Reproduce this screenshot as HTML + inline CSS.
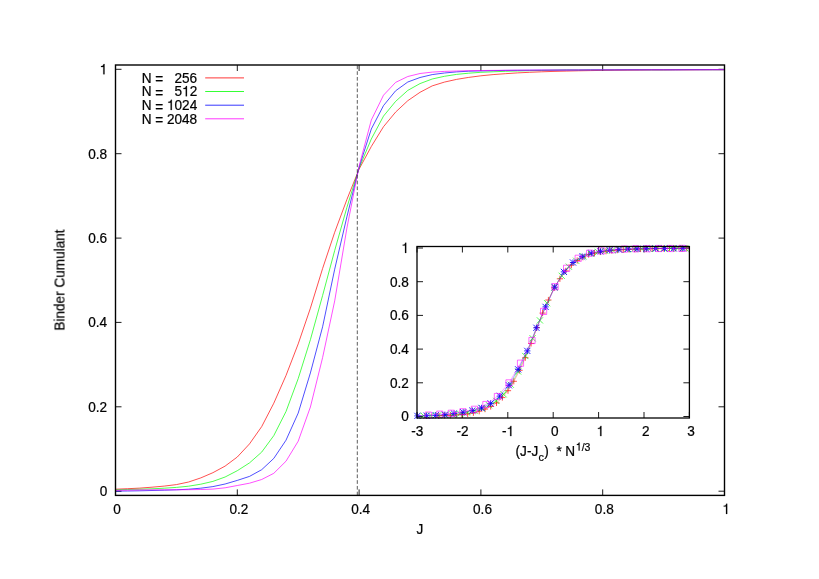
<!DOCTYPE html>
<html><head><meta charset="utf-8"><title>Binder Cumulant</title>
<style>html,body{margin:0;padding:0;background:#fff;}body{width:819px;height:579px;overflow:hidden;font-family:"Liberation Sans",sans-serif;}svg{display:block;}</style>
</head><body>
<svg width="819" height="579" viewBox="0 0 819 579">
<rect width="819" height="579" fill="#fff"/>
<g font-family="Liberation Sans, sans-serif" font-size="13.6px" fill="#000" stroke="#000" stroke-width="0.22" style="opacity:0.999">
<path d="M115.5,495.4v-6.0M115.5,65.0v6.0M115.5,491.2h6.0M724.5,491.2h-6.0M237.3,495.4v-6.0M237.3,65.0v6.0M115.5,406.8h6.0M724.5,406.8h-6.0M359.1,495.4v-6.0M359.1,65.0v6.0M115.5,322.4h6.0M724.5,322.4h-6.0M480.9,495.4v-6.0M480.9,65.0v6.0M115.5,238.1h6.0M724.5,238.1h-6.0M602.7,495.4v-6.0M602.7,65.0v6.0M115.5,153.7h6.0M724.5,153.7h-6.0M724.5,495.4v-6.0M724.5,65.0v6.0M115.5,69.3h6.0M724.5,69.3h-6.0" stroke="#000" stroke-width="0.9" fill="none"/>
<g transform="translate(117.1,513.9) scale(1,1.06)"><text x="-3.78" y="0.00" xml:space="preserve">0</text></g>
<g transform="translate(107.2,496.2) scale(1,1.06)"><text x="-7.56" y="0.00" xml:space="preserve">0</text></g>
<g transform="translate(238.9,513.9) scale(1,1.06)"><text x="-9.45" y="0.00" xml:space="preserve">0.2</text></g>
<g transform="translate(107.2,411.8) scale(1,1.06)"><text x="-18.91" y="0.00" xml:space="preserve">0.2</text></g>
<g transform="translate(360.7,513.9) scale(1,1.06)"><text x="-9.45" y="0.00" xml:space="preserve">0.4</text></g>
<g transform="translate(107.2,327.4) scale(1,1.06)"><text x="-18.91" y="0.00" xml:space="preserve">0.4</text></g>
<g transform="translate(482.5,513.9) scale(1,1.06)"><text x="-9.45" y="0.00" xml:space="preserve">0.6</text></g>
<g transform="translate(107.2,243.1) scale(1,1.06)"><text x="-18.91" y="0.00" xml:space="preserve">0.6</text></g>
<g transform="translate(604.3,513.9) scale(1,1.06)"><text x="-9.45" y="0.00" xml:space="preserve">0.8</text></g>
<g transform="translate(107.2,158.7) scale(1,1.06)"><text x="-18.91" y="0.00" xml:space="preserve">0.8</text></g>
<g transform="translate(726.1,513.9) scale(1,1.06)"><path d="M1.10,0.00L-0.10,0.00L-0.10,-6.87L-2.39,-6.87L-2.39,-7.72C-1.18,-7.79 -0.19,-7.96 0.20,-9.64L1.10,-9.64Z"/></g>
<g transform="translate(107.2,74.3) scale(1,1.06)"><path d="M-2.68,0.00L-3.88,0.00L-3.88,-6.87L-6.18,-6.87L-6.18,-7.72C-4.97,-7.79 -3.97,-7.96 -3.58,-9.64L-2.68,-9.64Z"/></g>
<g transform="translate(419.9,533.8) scale(1,1.06)"><text x="-3.40" y="0.00" xml:space="preserve">J</text></g>
<text transform="translate(64.3,280.1) rotate(-90) scale(1,1.06)" text-anchor="middle">Binder Cumulant</text>
<g transform="translate(197.2,82.7) scale(1,1.06)"><text x="-55.57" y="0.00" xml:space="preserve">N </text><text x="-41.97" y="1.50" xml:space="preserve">=</text><text x="-34.03" y="0.00" xml:space="preserve">   256</text></g>
<path d="M205.2,77.9H244" stroke="#ff0000" stroke-width="0.8" fill="none"/>
<g transform="translate(197.2,96.3) scale(1,1.06)"><text x="-55.57" y="0.00" xml:space="preserve">N </text><text x="-41.97" y="1.50" xml:space="preserve">=</text><text x="-34.03" y="0.00" xml:space="preserve">   5</text><path d="M-10.25,0.00L-11.44,0.00L-11.44,-6.87L-13.74,-6.87L-13.74,-7.72C-12.53,-7.79 -11.54,-7.96 -11.14,-9.64L-10.25,-9.64Z"/><text x="-7.56" y="0.00" xml:space="preserve">2</text></g>
<path d="M205.2,91.5H244" stroke="#00ff00" stroke-width="0.8" fill="none"/>
<g transform="translate(197.2,110.0) scale(1,1.06)"><text x="-55.58" y="0.00" xml:space="preserve">N </text><text x="-41.98" y="1.50" xml:space="preserve">=</text><path d="M-25.37,0.00L-26.57,0.00L-26.57,-6.87L-28.87,-6.87L-28.87,-7.72C-27.66,-7.79 -26.67,-7.96 -26.27,-9.64L-25.37,-9.64Z"/><text x="-22.69" y="0.00" xml:space="preserve">024</text></g>
<path d="M205.2,105.2H244" stroke="#0000ff" stroke-width="0.8" fill="none"/>
<g transform="translate(197.2,123.6) scale(1,1.06)"><text x="-55.58" y="0.00" xml:space="preserve">N </text><text x="-41.98" y="1.50" xml:space="preserve">=</text><text x="-34.04" y="0.00" xml:space="preserve"> 2048</text></g>
<path d="M205.2,118.8H244" stroke="#ff00ff" stroke-width="0.8" fill="none"/>
<polyline points="115.5,489.2 127.7,488.7 139.9,488.1 152.0,487.2 164.2,486.1 176.4,484.6 188.6,482.0 200.8,477.9 212.9,472.7 225.1,466.1 237.3,457.0 249.5,443.9 261.7,426.6 273.8,403.2 286.0,375.5 298.2,343.9 310.4,308.2 322.6,268.5 334.7,232.3 346.9,199.5 359.1,169.1 371.3,146.5 383.5,126.7 395.6,112.1 407.8,100.7 420.0,92.3 432.2,85.9 444.4,82.1 456.5,79.4 468.7,77.4 480.9,75.8 493.1,74.6 505.3,73.7 517.4,72.9 529.6,72.3 541.8,71.8 554.0,71.4 566.2,71.1 578.3,70.8 590.5,70.6 602.7,70.4 614.9,70.2 627.1,70.1 639.2,70.0 651.4,69.9 663.6,69.9 675.8,69.8 688.0,69.8 700.1,69.7 712.3,69.7 724.5,69.7" fill="none" stroke="#ff0000" stroke-width="0.7" stroke-linejoin="round"/>
<polyline points="115.5,489.8 127.7,489.5 139.9,489.2 152.0,488.8 164.2,488.2 176.4,487.4 188.6,486.2 200.8,484.2 212.9,481.4 225.1,477.0 237.3,470.7 249.5,462.9 261.7,452.1 273.8,435.6 286.0,411.5 298.2,378.6 310.4,339.7 322.6,295.5 334.7,250.5 346.9,207.4 359.1,168.1 371.3,139.0 383.5,116.1 395.6,101.4 407.8,90.4 420.0,83.6 432.2,79.0 444.4,76.3 456.5,74.4 468.7,73.2 480.9,72.3 493.1,71.8 505.3,71.3 517.4,71.0 529.6,70.7 541.8,70.5 554.0,70.2 566.2,70.0 578.3,70.0 590.5,69.9 602.7,69.9 614.9,69.8 627.1,69.8 639.2,69.8 651.4,69.8 663.6,69.8 675.8,69.7 688.0,69.7 700.1,69.7 712.3,69.7 724.5,69.7" fill="none" stroke="#00ff00" stroke-width="0.7" stroke-linejoin="round"/>
<polyline points="115.5,491.1 127.7,491.0 139.9,490.8 152.0,490.5 164.2,490.2 176.4,489.8 188.6,489.2 200.8,488.2 212.9,486.6 225.1,484.0 237.3,480.4 249.5,476.4 261.7,469.7 273.8,458.4 286.0,440.2 298.2,413.1 310.4,372.9 322.6,326.8 334.7,269.2 346.9,216.8 359.1,167.3 371.3,129.0 383.5,105.6 395.6,90.8 407.8,82.0 420.0,77.5 432.2,74.6 444.4,73.0 456.5,71.9 468.7,71.2 480.9,70.9 493.1,70.6 505.3,70.4 517.4,70.3 529.6,70.2 541.8,70.1 554.0,70.1 566.2,70.0 578.3,70.0 590.5,69.9 602.7,69.9 614.9,69.9 627.1,69.8 639.2,69.8 651.4,69.8 663.6,69.8 675.8,69.8 688.0,69.7 700.1,69.7 712.3,69.7 724.5,69.7" fill="none" stroke="#0000ff" stroke-width="0.7" stroke-linejoin="round"/>
<polyline points="115.5,490.3 127.7,490.1 139.9,489.9 152.0,489.8 164.2,489.8 176.4,489.8 188.6,489.7 200.8,489.5 212.9,489.1 225.1,487.8 237.3,485.5 249.5,483.2 261.7,479.5 273.8,473.3 286.0,461.2 298.2,441.2 310.4,407.0 322.6,357.6 334.7,300.9 346.9,228.1 359.1,166.1 371.3,120.1 383.5,95.2 395.6,82.4 407.8,76.5 420.0,73.5 432.2,72.1 444.4,71.4 456.5,71.0 468.7,70.7 480.9,70.5 493.1,70.4 505.3,70.3 517.4,70.2 529.6,70.2 541.8,70.1 554.0,70.1 566.2,70.1 578.3,70.0 590.5,70.0 602.7,69.9 614.9,69.9 627.1,69.9 639.2,69.9 651.4,69.8 663.6,69.8 675.8,69.8 688.0,69.8 700.1,69.8 712.3,69.7 724.5,69.7" fill="none" stroke="#ff00ff" stroke-width="0.7" stroke-linejoin="round"/>
<path d="M357.3,495.4V65.0" stroke="#333" stroke-width="0.8" stroke-dasharray="3.7 2.06" fill="none"/>
<rect x="115.5" y="65.0" width="609.0" height="430.4" fill="none" stroke="#000" stroke-width="1.4"/>
<path d="M417.0,418.0v-6.0M417.0,246.5v6.0M462.4,418.0v-6.0M462.4,246.5v6.0M507.8,418.0v-6.0M507.8,246.5v6.0M553.2,418.0v-6.0M553.2,246.5v6.0M598.6,418.0v-6.0M598.6,246.5v6.0M644.0,418.0v-6.0M644.0,246.5v6.0M689.4,418.0v-6.0M689.4,246.5v6.0M417.0,416.5h6.0M689.4,416.5h-6.0M417.0,382.8h6.0M689.4,382.8h-6.0M417.0,349.1h6.0M689.4,349.1h-6.0M417.0,315.4h6.0M689.4,315.4h-6.0M417.0,281.7h6.0M689.4,281.7h-6.0M417.0,248.0h6.0M689.4,248.0h-6.0" stroke="#000" stroke-width="0.9" fill="none"/>
<g transform="translate(417.2,436.1) scale(1,1.06)"><text x="-6.05" y="0.00" xml:space="preserve">-3</text></g>
<g transform="translate(462.6,436.1) scale(1,1.06)"><text x="-6.05" y="0.00" xml:space="preserve">-2</text></g>
<g transform="translate(508.0,436.1) scale(1,1.06)"><text x="-6.05" y="0.00" xml:space="preserve">-</text><path d="M3.36,0.00L2.17,0.00L2.17,-6.87L-0.13,-6.87L-0.13,-7.72C1.08,-7.79 2.07,-7.96 2.47,-9.64L3.36,-9.64Z"/></g>
<g transform="translate(554.9,436.1) scale(1,1.06)"><text x="-3.78" y="0.00" xml:space="preserve">0</text></g>
<g transform="translate(600.3,436.1) scale(1,1.06)"><path d="M1.10,0.00L-0.10,0.00L-0.10,-6.87L-2.39,-6.87L-2.39,-7.72C-1.18,-7.79 -0.19,-7.96 0.20,-9.64L1.10,-9.64Z"/></g>
<g transform="translate(645.7,436.1) scale(1,1.06)"><text x="-3.78" y="0.00" xml:space="preserve">2</text></g>
<g transform="translate(691.1,436.1) scale(1,1.06)"><text x="-3.78" y="0.00" xml:space="preserve">3</text></g>
<g transform="translate(408.9,421.4) scale(1,1.06)"><text x="-7.56" y="0.00" xml:space="preserve">0</text></g>
<g transform="translate(408.9,387.7) scale(1,1.06)"><text x="-18.91" y="0.00" xml:space="preserve">0.2</text></g>
<g transform="translate(408.9,354.0) scale(1,1.06)"><text x="-18.91" y="0.00" xml:space="preserve">0.4</text></g>
<g transform="translate(408.9,320.3) scale(1,1.06)"><text x="-18.91" y="0.00" xml:space="preserve">0.6</text></g>
<g transform="translate(408.9,286.6) scale(1,1.06)"><text x="-18.91" y="0.00" xml:space="preserve">0.8</text></g>
<g transform="translate(408.9,252.9) scale(1,1.06)"><path d="M-2.68,0.00L-3.88,0.00L-3.88,-6.87L-6.18,-6.87L-6.18,-7.72C-4.97,-7.79 -3.97,-7.96 -3.58,-9.64L-2.68,-9.64Z"/></g>
<g transform="translate(515.6,456.3) scale(1,1.06)"><text x="0.00" y="0.00" xml:space="preserve">(J-J</text></g>
<g transform="translate(538.5,461.0) scale(1,1.06)"><text x="0.00" y="0.00" font-size="10.9px" xml:space="preserve">c</text></g>
<g transform="translate(544.3,456.3) scale(1,1.06)"><text x="0.00" y="0.00" xml:space="preserve">)</text></g>
<g transform="translate(556.4,456.3) scale(1,1.06)"><text x="0.00" y="0.00" xml:space="preserve">*</text></g>
<g transform="translate(565.3,456.3) scale(1,1.06)"><text x="0.00" y="0.00" xml:space="preserve">N</text></g>
<g transform="translate(575.8,450.5) scale(1,1.06)"><path d="M3.77,0.00L2.85,0.00L2.85,-5.30L1.07,-5.30L1.07,-5.96C2.01,-6.02 2.77,-6.14 3.08,-7.44L3.77,-7.44Z"/><text x="5.84" y="0.00" font-size="10.5px" xml:space="preserve">/3</text></g>
<clipPath id="ic"><rect x="417.0" y="242.5" width="272.4" height="179.5"/></clipPath>
<polyline clip-path="url(#ic)" points="438.8,415.7 444.6,415.5 450.4,415.3 456.1,414.9 461.9,414.5 467.7,413.9 473.4,412.8 479.2,411.2 485.0,409.1 490.7,406.5 496.5,402.9 502.3,397.6 508.0,390.7 513.8,381.3 519.6,370.3 525.3,357.7 531.1,343.4 536.9,327.6 542.6,313.1 548.4,300.0 554.2,287.9 559.9,278.8 565.7,270.9 571.4,265.1 577.2,260.5 583.0,257.2 588.7,254.6 594.5,253.1 600.3,252.0 606.0,251.2 611.8,250.6 617.6,250.1 623.3,249.7 629.1,249.4 634.9,249.2 640.6,249.0 646.4,248.9 652.2,248.7 657.9,248.6 663.7,248.5 669.5,248.4 675.2,248.4 681.0,248.3 686.8,248.3 692.5,248.2 698.3,248.2 704.1,248.2 709.8,248.2 715.6,248.2 721.3,248.2 727.1,248.2" fill="none" stroke="#ff0000" stroke-width="0.35"/>
<path d="M435.7,415.7h6.2M438.8,412.6v6.2M441.5,415.5h6.2M444.6,412.4v6.2M447.3,415.3h6.2M450.4,412.2v6.2M453.0,414.9h6.2M456.1,411.8v6.2M458.8,414.5h6.2M461.9,411.4v6.2M464.6,413.9h6.2M467.7,410.8v6.2M470.3,412.8h6.2M473.4,409.7v6.2M476.1,411.2h6.2M479.2,408.1v6.2M481.9,409.1h6.2M485.0,406.0v6.2M487.6,406.5h6.2M490.7,403.4v6.2M493.4,402.9h6.2M496.5,399.8v6.2M499.2,397.6h6.2M502.3,394.5v6.2M504.9,390.7h6.2M508.0,387.6v6.2M510.7,381.3h6.2M513.8,378.2v6.2M516.5,370.3h6.2M519.6,367.2v6.2M522.2,357.7h6.2M525.3,354.6v6.2M528.0,343.4h6.2M531.1,340.3v6.2M533.8,327.6h6.2M536.9,324.5v6.2M539.5,313.1h6.2M542.6,310.0v6.2M545.3,300.0h6.2M548.4,296.9v6.2M551.1,287.9h6.2M554.2,284.8v6.2M556.8,278.8h6.2M559.9,275.7v6.2M562.6,270.9h6.2M565.7,267.8v6.2M568.3,265.1h6.2M571.4,262.0v6.2M574.1,260.5h6.2M577.2,257.4v6.2M579.9,257.2h6.2M583.0,254.1v6.2M585.6,254.6h6.2M588.7,251.5v6.2M591.4,253.1h6.2M594.5,250.0v6.2M597.2,252.0h6.2M600.3,248.9v6.2M602.9,251.2h6.2M606.0,248.1v6.2M608.7,250.6h6.2M611.8,247.5v6.2M614.5,250.1h6.2M617.6,247.0v6.2M620.2,249.7h6.2M623.3,246.6v6.2M626.0,249.4h6.2M629.1,246.3v6.2M631.8,249.2h6.2M634.9,246.1v6.2M637.5,249.0h6.2M640.6,245.9v6.2M643.3,248.9h6.2M646.4,245.8v6.2M649.1,248.7h6.2M652.2,245.6v6.2M654.8,248.6h6.2M657.9,245.5v6.2M660.6,248.5h6.2M663.7,245.4v6.2M666.4,248.4h6.2M669.5,245.3v6.2M672.1,248.4h6.2M675.2,245.3v6.2M677.9,248.3h6.2M681.0,245.2v6.2M683.7,248.3h6.2M686.8,245.2v6.2" fill="none" stroke="#ff0000" stroke-width="0.7"/>
<polyline clip-path="url(#ic)" points="409.1,415.9 416.4,415.8 423.6,415.7 430.9,415.5 438.2,415.3 445.4,415.0 452.7,414.5 460.0,413.7 467.2,412.6 474.5,410.8 481.8,408.3 489.0,405.2 496.3,400.9 503.6,394.3 510.8,384.7 518.1,371.5 525.3,356.0 532.6,338.3 539.9,320.4 547.1,303.2 554.4,287.5 561.7,275.8 568.9,266.7 576.2,260.8 583.5,256.4 590.7,253.7 598.0,251.9 605.2,250.8 612.5,250.1 619.8,249.6 627.0,249.2 634.3,249.0 641.6,248.8 648.8,248.7 656.1,248.6 663.4,248.5 670.6,248.4 677.9,248.3 685.2,248.3 692.4,248.2 699.7,248.2 706.9,248.2 714.2,248.2 721.5,248.2 728.7,248.2 736.0,248.2 743.3,248.2 750.5,248.2 757.8,248.2 765.1,248.2 772.3,248.2" fill="none" stroke="#00ff00" stroke-width="0.35"/>
<path d="M420.5,412.6l6.2,6.2M420.5,418.8l6.2,-6.2M427.8,412.4l6.2,6.2M427.8,418.6l6.2,-6.2M435.1,412.2l6.2,6.2M435.1,418.4l6.2,-6.2M442.3,411.9l6.2,6.2M442.3,418.1l6.2,-6.2M449.6,411.4l6.2,6.2M449.6,417.6l6.2,-6.2M456.9,410.6l6.2,6.2M456.9,416.8l6.2,-6.2M464.1,409.5l6.2,6.2M464.1,415.7l6.2,-6.2M471.4,407.7l6.2,6.2M471.4,413.9l6.2,-6.2M478.7,405.2l6.2,6.2M478.7,411.4l6.2,-6.2M485.9,402.1l6.2,6.2M485.9,408.3l6.2,-6.2M493.2,397.8l6.2,6.2M493.2,404.0l6.2,-6.2M500.5,391.2l6.2,6.2M500.5,397.4l6.2,-6.2M507.7,381.6l6.2,6.2M507.7,387.8l6.2,-6.2M515.0,368.4l6.2,6.2M515.0,374.6l6.2,-6.2M522.2,352.9l6.2,6.2M522.2,359.1l6.2,-6.2M529.5,335.2l6.2,6.2M529.5,341.4l6.2,-6.2M536.8,317.3l6.2,6.2M536.8,323.5l6.2,-6.2M544.0,300.1l6.2,6.2M544.0,306.3l6.2,-6.2M551.3,284.4l6.2,6.2M551.3,290.6l6.2,-6.2M558.6,272.7l6.2,6.2M558.6,278.9l6.2,-6.2M565.8,263.6l6.2,6.2M565.8,269.8l6.2,-6.2M573.1,257.7l6.2,6.2M573.1,263.9l6.2,-6.2M580.4,253.3l6.2,6.2M580.4,259.5l6.2,-6.2M587.6,250.6l6.2,6.2M587.6,256.8l6.2,-6.2M594.9,248.8l6.2,6.2M594.9,255.0l6.2,-6.2M602.1,247.7l6.2,6.2M602.1,253.9l6.2,-6.2M609.4,247.0l6.2,6.2M609.4,253.2l6.2,-6.2M616.7,246.5l6.2,6.2M616.7,252.7l6.2,-6.2M623.9,246.1l6.2,6.2M623.9,252.3l6.2,-6.2M631.2,245.9l6.2,6.2M631.2,252.1l6.2,-6.2M638.5,245.7l6.2,6.2M638.5,251.9l6.2,-6.2M645.7,245.6l6.2,6.2M645.7,251.8l6.2,-6.2M653.0,245.5l6.2,6.2M653.0,251.7l6.2,-6.2M660.3,245.4l6.2,6.2M660.3,251.6l6.2,-6.2M667.5,245.3l6.2,6.2M667.5,251.5l6.2,-6.2M674.8,245.2l6.2,6.2M674.8,251.4l6.2,-6.2M682.1,245.2l6.2,6.2M682.1,251.4l6.2,-6.2" fill="none" stroke="#00ff00" stroke-width="0.7"/>
<polyline clip-path="url(#ic)" points="371.7,416.4 380.8,416.4 390.0,416.3 399.1,416.2 408.3,416.1 417.4,415.9 426.6,415.7 435.7,415.3 444.9,414.7 454.0,413.6 463.2,412.2 472.3,410.6 481.5,407.9 490.6,403.4 499.8,396.1 508.9,385.3 518.1,369.3 527.3,350.9 536.4,327.8 545.6,306.9 554.7,287.1 563.9,271.9 573.0,262.5 582.2,256.6 591.3,253.1 600.5,251.3 609.6,250.1 618.8,249.5 627.9,249.0 637.1,248.8 646.2,248.6 655.4,248.5 664.5,248.5 673.7,248.4 682.8,248.4 692.0,248.3 701.1,248.3 710.3,248.3 719.4,248.3 728.6,248.3 737.8,248.2 746.9,248.2 756.1,248.2 765.2,248.2 774.4,248.2 783.5,248.2 792.7,248.2 801.8,248.2 811.0,248.2 820.1,248.2 829.3,248.2" fill="none" stroke="#0000ff" stroke-width="0.35"/>
<path d="M414.3,415.9h6.2M417.4,412.8v6.2M414.3,412.8l6.2,6.2M414.3,419.0l6.2,-6.2M423.5,415.7h6.2M426.6,412.6v6.2M423.5,412.6l6.2,6.2M423.5,418.8l6.2,-6.2M432.6,415.3h6.2M435.7,412.2v6.2M432.6,412.2l6.2,6.2M432.6,418.4l6.2,-6.2M441.8,414.7h6.2M444.9,411.6v6.2M441.8,411.6l6.2,6.2M441.8,417.8l6.2,-6.2M450.9,413.6h6.2M454.0,410.5v6.2M450.9,410.5l6.2,6.2M450.9,416.7l6.2,-6.2M460.1,412.2h6.2M463.2,409.1v6.2M460.1,409.1l6.2,6.2M460.1,415.3l6.2,-6.2M469.2,410.6h6.2M472.3,407.5v6.2M469.2,407.5l6.2,6.2M469.2,413.7l6.2,-6.2M478.4,407.9h6.2M481.5,404.8v6.2M478.4,404.8l6.2,6.2M478.4,411.0l6.2,-6.2M487.5,403.4h6.2M490.6,400.3v6.2M487.5,400.3l6.2,6.2M487.5,406.5l6.2,-6.2M496.7,396.1h6.2M499.8,393.0v6.2M496.7,393.0l6.2,6.2M496.7,399.2l6.2,-6.2M505.8,385.3h6.2M508.9,382.2v6.2M505.8,382.2l6.2,6.2M505.8,388.4l6.2,-6.2M515.0,369.3h6.2M518.1,366.2v6.2M515.0,366.2l6.2,6.2M515.0,372.4l6.2,-6.2M524.2,350.9h6.2M527.3,347.8v6.2M524.2,347.8l6.2,6.2M524.2,354.0l6.2,-6.2M533.3,327.8h6.2M536.4,324.7v6.2M533.3,324.7l6.2,6.2M533.3,330.9l6.2,-6.2M542.5,306.9h6.2M545.6,303.8v6.2M542.5,303.8l6.2,6.2M542.5,310.0l6.2,-6.2M551.6,287.1h6.2M554.7,284.0v6.2M551.6,284.0l6.2,6.2M551.6,290.2l6.2,-6.2M560.8,271.9h6.2M563.9,268.8v6.2M560.8,268.8l6.2,6.2M560.8,275.0l6.2,-6.2M569.9,262.5h6.2M573.0,259.4v6.2M569.9,259.4l6.2,6.2M569.9,265.6l6.2,-6.2M579.1,256.6h6.2M582.2,253.5v6.2M579.1,253.5l6.2,6.2M579.1,259.7l6.2,-6.2M588.2,253.1h6.2M591.3,250.0v6.2M588.2,250.0l6.2,6.2M588.2,256.2l6.2,-6.2M597.4,251.3h6.2M600.5,248.2v6.2M597.4,248.2l6.2,6.2M597.4,254.4l6.2,-6.2M606.5,250.1h6.2M609.6,247.0v6.2M606.5,247.0l6.2,6.2M606.5,253.2l6.2,-6.2M615.7,249.5h6.2M618.8,246.4v6.2M615.7,246.4l6.2,6.2M615.7,252.6l6.2,-6.2M624.8,249.0h6.2M627.9,245.9v6.2M624.8,245.9l6.2,6.2M624.8,252.1l6.2,-6.2M634.0,248.8h6.2M637.1,245.7v6.2M634.0,245.7l6.2,6.2M634.0,251.9l6.2,-6.2M643.1,248.6h6.2M646.2,245.5v6.2M643.1,245.5l6.2,6.2M643.1,251.7l6.2,-6.2M652.3,248.5h6.2M655.4,245.4v6.2M652.3,245.4l6.2,6.2M652.3,251.6l6.2,-6.2M661.4,248.5h6.2M664.5,245.4v6.2M661.4,245.4l6.2,6.2M661.4,251.6l6.2,-6.2M670.6,248.4h6.2M673.7,245.3v6.2M670.6,245.3l6.2,6.2M670.6,251.5l6.2,-6.2M679.7,248.4h6.2M682.8,245.3v6.2M679.7,245.3l6.2,6.2M679.7,251.5l6.2,-6.2" fill="none" stroke="#0000ff" stroke-width="0.85"/>
<polyline clip-path="url(#ic)" points="324.5,416.1 336.0,416.1 347.5,416.0 359.1,416.0 370.6,415.9 382.1,415.9 393.7,415.9 405.2,415.8 416.7,415.7 428.3,415.1 439.8,414.2 451.3,413.3 462.9,411.8 474.4,409.3 485.9,404.5 497.4,396.5 509.0,382.9 520.5,363.2 532.0,340.5 543.6,311.4 555.1,286.7 566.6,268.3 578.2,258.3 589.7,253.2 601.2,250.9 612.8,249.7 624.3,249.1 635.8,248.8 647.3,248.7 658.9,248.5 670.4,248.5 681.9,248.4 693.5,248.4 705.0,248.4 716.5,248.4 728.1,248.3 739.6,248.3 751.1,248.3 762.7,248.3 774.2,248.3 785.7,248.3 797.3,248.2 808.8,248.2 820.3,248.2 831.8,248.2 843.4,248.2 854.9,248.2 866.4,248.2 878.0,248.2 889.5,248.2 901.0,248.2" fill="none" stroke="#ff00ff" stroke-width="0.35"/>
<path d="M425.2,412.0h6.2v6.2h-6.2zM436.7,411.1h6.2v6.2h-6.2zM448.2,410.2h6.2v6.2h-6.2zM459.8,408.7h6.2v6.2h-6.2zM471.3,406.2h6.2v6.2h-6.2zM482.8,401.4h6.2v6.2h-6.2zM494.3,393.4h6.2v6.2h-6.2zM505.9,379.8h6.2v6.2h-6.2zM517.4,360.1h6.2v6.2h-6.2zM528.9,337.4h6.2v6.2h-6.2zM540.5,308.3h6.2v6.2h-6.2zM552.0,283.6h6.2v6.2h-6.2zM563.5,265.2h6.2v6.2h-6.2zM575.1,255.2h6.2v6.2h-6.2zM586.6,250.1h6.2v6.2h-6.2zM598.1,247.8h6.2v6.2h-6.2zM609.7,246.6h6.2v6.2h-6.2zM621.2,246.0h6.2v6.2h-6.2zM632.7,245.7h6.2v6.2h-6.2zM644.2,245.6h6.2v6.2h-6.2zM655.8,245.4h6.2v6.2h-6.2zM667.3,245.4h6.2v6.2h-6.2zM678.8,245.3h6.2v6.2h-6.2z" fill="none" stroke="#ff00ff" stroke-width="0.6"/>
<rect x="417.0" y="246.5" width="272.4" height="171.5" fill="none" stroke="#000" stroke-width="1.3"/>
</g></svg>
</body></html>
